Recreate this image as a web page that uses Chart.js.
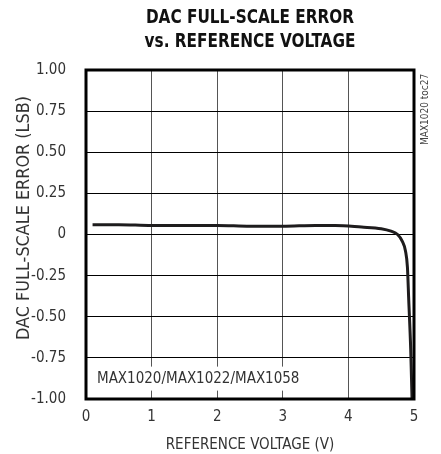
<!DOCTYPE html>
<html>
<head>
<meta charset="utf-8">
<script src="https://cdn.jsdelivr.net/npm/chart.js@4.4.1/dist/chart.umd.min.js"></script>
<style>
  html, body { margin: 0; padding: 0; background: #fff; }
  #wrap { width: 441px; height: 454px; }
</style>
</head>
<body>
<div id="wrap"><canvas id="chart" width="441" height="454"></canvas></div>
<script>
// reference voltage (V) vs full-scale error (LSB)
const refVoltage = [0.1, 0.5, 1.0, 1.5, 2.0, 2.5, 3.0, 3.5, 3.8, 4.2, 4.5, 4.65, 4.75, 4.82, 4.87, 4.9, 4.92, 4.95, 4.97];
const fsError    = [0.06, 0.06, 0.055, 0.055, 0.055, 0.05, 0.05, 0.055, 0.055, 0.045, 0.035, 0.02, 0.0, -0.04, -0.1, -0.2, -0.4, -0.7, -1.0];

const xTicks = [0, 1, 2, 3, 4, 5];
const yTicks = [-1, -0.75, -0.5, -0.25, 0, 0.25, 0.5, 0.75, 1];
const yTickLabels = ['-1.00', '-0.75', '-0.50', '-0.25', '0', '0.25', '0.50', '0.75', '1.00'];

const titleLines = ['DAC FULL-SCALE ERROR', 'vs. REFERENCE VOLTAGE'];
const yTitle = 'DAC FULL-SCALE ERROR (LSB)';
const partLabel = 'MAX1020/MAX1022/MAX1058';
const tocLabel = 'MAX1020 toc27';

const FONT = "'Liberation Sans Narrow', 'Arial Narrow', 'DejaVu Sans Condensed', sans-serif";

// draw text squeezed horizontally (narrow look)
function squeezed(ctx, text, x, y, sx) {
    ctx.save();
    ctx.translate(x, y);
    ctx.scale(sx, 1);
    ctx.fillText(text, 0, 0);
    ctx.restore();
}

const extras = {
    id: 'extras',
    afterDraw(chart) {
        const ctx = chart.ctx;
        const area = chart.chartArea;
        const cx = (area.left + area.right) / 2;

        // title
        ctx.save();
        ctx.fillStyle = '#111';
        ctx.font = "bold 20px " + FONT;
        ctx.textAlign = 'center';
        ctx.textBaseline = 'middle';
        squeezed(ctx, titleLines[0], cx, 18, 0.85);
        squeezed(ctx, titleLines[1], cx, 42, 0.85);

        // y axis title
        ctx.save();
        ctx.translate(25, 218);
        ctx.rotate(-Math.PI / 2);
        ctx.font = "17px " + FONT;
        ctx.fillStyle = '#333';
        ctx.scale(1.05, 1);
        ctx.fillText(yTitle, 0, 0);
        ctx.restore();

        // part number box inside the plot
        const ys = chart.scales.y;
        ctx.font = "15px " + FONT;
        const w = ctx.measureText(partLabel).width;
        const tx = area.left + 11;
        const ty = ys.getPixelForValue(-0.87);
        ctx.fillStyle = '#fff';
        ctx.fillRect(tx - 3, ty - 11, w + 6, 24);
        ctx.fillStyle = '#333';
        ctx.textAlign = 'left';
        ctx.fillText(partLabel, tx, ty + 1);

        // toc label on the right, reading upwards
        ctx.translate(area.right + 11, area.top + 75);
        ctx.rotate(-Math.PI / 2);
        ctx.font = "10px " + FONT;
        ctx.fillStyle = '#444';
        ctx.textAlign = 'left';
        squeezed(ctx, tocLabel, 0, 0, 1.0);
        ctx.restore();

        // frame
        ctx.save();
        ctx.strokeStyle = '#000';
        ctx.lineWidth = 3;
        ctx.strokeRect(area.left, area.top, area.right - area.left, area.bottom - area.top);
        ctx.restore();
    }
};

new Chart(document.getElementById('chart'), {
    type: 'scatter',
    data: {
        datasets: [{
            data: refVoltage.map((v, i) => ({ x: v, y: fsError[i] })),
            showLine: true,
            borderColor: '#1e1c1d',
            borderWidth: 3,
            pointRadius: 0,
            cubicInterpolationMode: 'monotone',
            fill: false
        }]
    },
    options: {
        responsive: false,
        animation: false,
        layout: { padding: { top: 70, right: 27, left: 0, bottom: 0 } },
        plugins: { legend: { display: false }, tooltip: { enabled: false } },
        scales: {
            x: {
                type: 'linear',
                min: 0, max: 5,
                afterBuildTicks: s => { s.ticks = xTicks.map(v => ({ value: v })); },
                afterFit: s => { s.height = 55; },
                grid: { color: '#555', lineWidth: 1, drawTicks: false },
                border: { display: false },
                ticks: { color: '#333', font: { family: FONT, size: 15 }, padding: 9, maxRotation: 0 },
                title: { display: true, text: 'REFERENCE VOLTAGE (V)', color: '#333', font: { family: FONT, size: 15 }, padding: { top: 4, bottom: 0 } }
            },
            y: {
                type: 'linear',
                min: -1, max: 1,
                afterBuildTicks: s => { s.ticks = yTicks.map(v => ({ value: v })); },
                afterFit: s => { s.width = 86; },
                grid: { color: '#000', lineWidth: 1, drawTicks: false },
                border: { display: false },
                ticks: {
                    color: '#333', font: { family: FONT, size: 15 }, padding: 20,
                    callback: v => yTickLabels[yTicks.indexOf(v)]
                },
                title: { display: false }
            }
        }
    },
    plugins: [extras]
});
</script>
</body>
</html>
